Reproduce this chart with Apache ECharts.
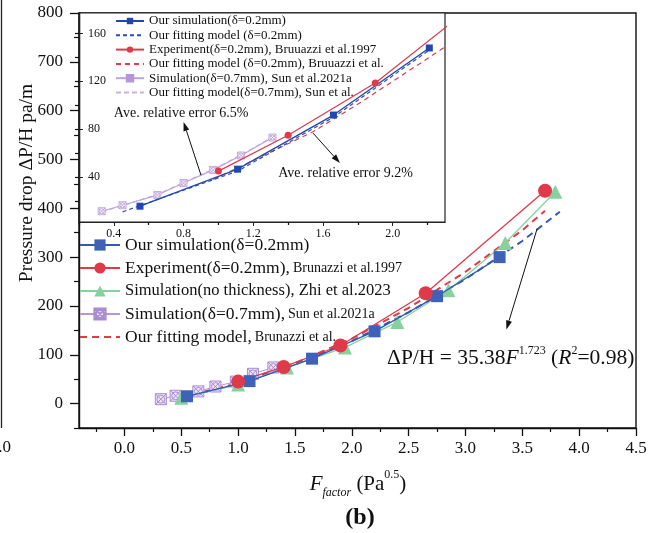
<!DOCTYPE html>
<html><head><meta charset="utf-8">
<script src="https://cdn.jsdelivr.net/npm/echarts@6/dist/echarts.min.js"></script>
<style>html,body{margin:0;padding:0;background:#fff}#c{width:658px;height:533px}</style>
</head><body><div id="c"></div>
<script>
// ---------- main chart data ----------
const simX = [0.55, 1.1, 1.65, 2.2, 2.75, 3.3];
const simY = [15, 46, 92, 148, 220, 300];
const expX = [1.0, 1.4, 1.9, 2.65, 3.7];
const expY = [45, 75, 119, 226, 436];
const zhiX = [0.5, 1.0, 1.43, 1.94, 2.4, 2.85, 3.35, 3.79];
const zhiY = [12, 39, 74, 115, 167, 232, 329, 434];
const sunX = [0.32, 0.45, 0.65, 0.8, 0.98, 1.13, 1.31];
const sunY = [9, 16, 25, 35, 45, 61, 74];
const fitBruX = [0.5, 1.0, 1.5, 2.0, 2.5, 3.0, 3.5, 3.7];
const fitBruY = [13, 42, 83, 133, 196, 270, 355, 395];
const fitSimX = [0.5, 1.0, 1.5, 2.0, 2.5, 3.0, 3.5, 3.83];
const fitSimY = [12, 40, 80, 128, 187, 255, 333, 393];
// ---------- inset data ----------
const inSimX = [0.55, 1.11, 1.66, 2.21];
const inSimY = [15.7, 46.6, 91.8, 147.8];
const inFitSimX = [0.45, 1.11, 1.66, 2.21];
const inFitSimY = [11, 45, 90, 146];
const inExpX = [1.0, 1.4, 1.9, 2.65];
const inExpY = [45, 75, 118.6, 205];
const inFitBruX = [0.97, 1.54, 1.81, 2.3];
const inFitBruY = [38, 77.6, 101.8, 148.6];
const inSunX = [0.33, 0.45, 0.65, 0.8, 0.97, 1.13, 1.31];
const inSunY = [11.5, 16.5, 25, 35, 46, 58, 73];
const inFitSunX = [0.33, 0.45, 0.65, 0.8, 0.97, 1.13, 1.31];
const inFitSunY = [11, 16, 25.5, 35.5, 46.5, 58.5, 73.5];
// ---------- tick labels ----------
const mainXTicks = [0, 0.5, 1, 1.5, 2, 2.5, 3, 3.5, 4, 4.5];
const mainXMinor = [-0.25, 0.25, 0.75, 1.25, 1.75, 2.25, 2.75, 3.25, 3.75, 4.25];
const mainYTicks = [0, 100, 200, 300, 400, 500, 600, 700, 800];
const mainYMinor = [-50, 50, 150, 250, 350, 450, 550, 650, 750];
const inXTicks = [0.4, 0.8, 1.2, 1.6, 2.0];
const inXMinor = [0.2, 0.6, 1.0, 1.4, 1.8, 2.2];
const inYTicks = [40, 80, 120, 160];
const inYMinor = [20, 40, 60, 80, 100, 120, 140, 160];

const zip = (xs, ys) => xs.map((x, i) => [x, ys[i]]);
const FONT = '"Liberation Serif", "DejaVu Serif", serif';
const BLUE = '#3558b0', RED = '#e0394a', GREEN = '#86d19e', LAV = '#b596d8';
const XSYM = 'path://M0,0L10,0L10,10L0,10ZM0,0L10,10M10,0L0,10M8.6,5A3.6,3.6,0,1,1,1.4,5A3.6,3.6,0,1,1,8.6,5Z';
const NOSYM = { color: 'rgba(0,0,0,0)', borderColor: 'rgba(0,0,0,0)', borderWidth: 0 };

const mainNames = {
  'Our simulation(δ=0.2mm)': '{a|Our simulation(δ=0.2mm)}',
  'Experiment(δ=0.2mm), Brunazzi et al.1997': '{a|Experiment(δ=0.2mm),} {b|Brunazzi et al.1997}',
  'Simulation(no thickness), Zhi et al.2023': '{c|Simulation(no thickness), Zhi et al.2023}',
  'Simulation(δ=0.7mm), Sun et al.2021a': '{a|Simulation(δ=0.7mm),} {b|Sun et al.2021a}',
  'Our fitting model, Brunazzi et al.': '{a|Our fitting model,} {b|Brunazzi et al.}'
};
const mainDashed = ['Our fitting model, Brunazzi et al.'];
const insetNames = {
  in1: 'Our simulation(δ=0.2mm)',
  in2: 'Our fitting model (δ=0.2mm)',
  in3: 'Experiment(δ=0.2mm), Bruuazzi et al.1997',
  in4: 'Our fitting model (δ=0.2mm), Bruuazzi et al.',
  in5: 'Simulation(δ=0.7mm), Sun et al.2021a',
  in6: 'Our fitting model(δ=0.7mm), Sun et al.'
};
const insetDashed = ['in2', 'in4', 'in6'];

function valAxis(grid, pos, min, max, labels, opts) {
  return Object.assign({
    type: 'value', gridIndex: grid, position: pos, min: min, max: max,
    splitLine: { show: false },
    axisLine: { show: true, onZero: false, lineStyle: { color: '#111', width: 1.4 } },
    axisTick: { show: true, customValues: labels, length: 8, lineStyle: { color: '#111', width: 1.3 } },
    axisLabel: { show: true, customValues: labels, color: '#111', fontFamily: FONT, fontSize: 17 }
  }, opts);
}
function minorAxis(grid, pos, min, max, vals, len, inside) {
  return {
    type: 'value', gridIndex: grid, position: pos, min: min, max: max,
    splitLine: { show: false },
    axisLine: { show: false, onZero: false },
    axisTick: { show: true, inside: !!inside, customValues: vals, length: len, lineStyle: { color: '#111', width: 1.2 } },
    axisLabel: { show: false }
  };
}

const chart = echarts.init(document.getElementById('c'), null, { renderer: 'canvas' });

const option = {
  animation: false,
  backgroundColor: '#fff',
  grid: [
    { left: 79, top: 13, right: 22, bottom: 105, show: true, borderColor: '#111', borderWidth: 1.4, backgroundColor: '#fff' },
    { left: 79, top: 13, width: 366, height: 209, show: true, borderColor: '#222', borderWidth: 1.2, backgroundColor: '#fff' }
  ],
  xAxis: [
    valAxis(0, 'bottom', -0.4, 4.5, mainXTicks, { axisLabel: { customValues: mainXTicks, color: '#111', fontFamily: FONT, fontSize: 17, margin: 12, formatter: v => v.toFixed(1) } }),
    minorAxis(0, 'bottom', -0.4, 4.5, mainXMinor, 4),
    valAxis(1, 'bottom', 0.2, 2.3, inXTicks, {
      axisLine: { show: true, onZero: false, lineStyle: { color: '#222', width: 1.2 } },
      axisTick: { show: true, customValues: inXTicks, length: 4, lineStyle: { color: '#222', width: 1 } },
      axisLabel: { customValues: inXTicks, color: '#111', fontFamily: FONT, fontSize: 12, margin: 6, formatter: v => v.toFixed(1) } }),
    minorAxis(1, 'bottom', 0.2, 2.3, inXMinor, 3)
  ],
  yAxis: [
    valAxis(0, 'left', -50, 800, mainYTicks, { axisTick: { show: true, customValues: mainYTicks, length: 9, lineStyle: { color: '#111', width: 1.3 } },
      axisLabel: { customValues: mainYTicks, color: '#111', fontFamily: FONT, fontSize: 17, margin: 16 } }),
    minorAxis(0, 'left', -50, 800, mainYMinor, 5),
    valAxis(1, 'left', 2.5, 177, inYTicks, {
      axisLine: { show: true, onZero: false, lineStyle: { color: '#222', width: 1.2 } },
      axisTick: { show: true, inside: true, customValues: inYTicks, length: 4, lineStyle: { color: '#222', width: 1 } },
      axisLabel: { inside: true, customValues: inYTicks, color: '#111', fontFamily: FONT, fontSize: 12, margin: 9 } }),
    minorAxis(1, 'left', 2.5, 177, inYMinor, 4)
  ],
  legend: [
    {
      orient: 'vertical', left: 79, top: 236, padding: 0, itemGap: 5,
      itemWidth: 40, itemHeight: 14,
      data: Object.keys(mainNames).map(n => mainDashed.includes(n) ? { name: n, itemStyle: NOSYM } : n),
      formatter: n => mainNames[n],
      textStyle: { fontFamily: FONT, color: '#111', lineHeight: 18,
        rich: {
          a: { fontFamily: FONT, fontSize: 17.5, color: '#111', lineHeight: 18 },
          b: { fontFamily: FONT, fontSize: 14, color: '#111', lineHeight: 18 },
          c: { fontFamily: FONT, fontSize: 16.5, color: '#111', lineHeight: 18 }
        } }
    },
    {
      orient: 'vertical', left: 115, top: 14.5, padding: 0, itemGap: 1.3,
      itemWidth: 28, itemHeight: 8,
      data: Object.keys(insetNames).map(n => insetDashed.includes(n) ? { name: n, itemStyle: NOSYM } : n),
      formatter: n => insetNames[n],
      textStyle: { fontFamily: FONT, fontSize: 13, color: '#111', lineHeight: 13 }
    }
  ],
  series: [
    // ----- main -----
    { name: 'Our fitting model, Brunazzi et al.', type: 'line', xAxisIndex: 0, yAxisIndex: 0, data: zip(fitBruX, fitBruY),
      symbol: 'none', lineStyle: { color: RED, width: 2, type: [7, 5] }, itemStyle: { color: RED }, z: 3 },
    { name: 'fitSimMain', type: 'line', xAxisIndex: 0, yAxisIndex: 0, data: zip(fitSimX, fitSimY),
      symbol: 'none', lineStyle: { color: BLUE, width: 2, type: [7, 5] }, itemStyle: { color: BLUE }, z: 3 },
    { name: 'Simulation(δ=0.7mm), Sun et al.2021a', type: 'line', xAxisIndex: 0, yAxisIndex: 0, data: zip(sunX, sunY),
      symbol: XSYM, symbolSize: 11, lineStyle: { color: LAV, width: 1 },
      itemStyle: { color: '#ece3f6', borderColor: '#a98bd2', borderWidth: 1 }, z: 4 },
    { name: 'Simulation(no thickness), Zhi et al.2023', type: 'line', xAxisIndex: 0, yAxisIndex: 0, data: zip(zhiX, zhiY),
      symbol: 'triangle', symbolSize: 14, lineStyle: { color: GREEN, width: 1.3 }, itemStyle: { color: GREEN }, z: 4 },
    { name: 'Our simulation(δ=0.2mm)', type: 'line', xAxisIndex: 0, yAxisIndex: 0, data: zip(simX, simY),
      symbol: 'rect', symbolSize: 12, lineStyle: { color: BLUE, width: 1.3 }, itemStyle: { color: '#3f62b8' }, z: 5 },
    { name: 'Experiment(δ=0.2mm), Brunazzi et al.1997', type: 'line', xAxisIndex: 0, yAxisIndex: 0, data: zip(expX, expY),
      symbol: 'circle', symbolSize: 14, lineStyle: { color: RED, width: 1.3 }, itemStyle: { color: RED }, z: 5 },
    // ----- inset -----
    { name: 'in6', type: 'line', xAxisIndex: 2, yAxisIndex: 2, data: zip(inFitSunX, inFitSunY),
      symbol: 'none', lineStyle: { color: '#c9b2e2', width: 1.2, type: [5, 3] }, itemStyle: { color: '#c9b2e2' }, z: 3 },
    { name: 'in5', type: 'line', xAxisIndex: 2, yAxisIndex: 2, data: zip(inSunX, inSunY),
      symbol: XSYM, symbolSize: 7, lineStyle: { color: '#bea3dc', width: 1.2 },
      itemStyle: { color: '#ffffff', borderColor: '#b596d8', borderWidth: 0.8 }, z: 4 },
    { name: 'in4', type: 'line', xAxisIndex: 2, yAxisIndex: 2, data: zip(inFitBruX, inFitBruY),
      symbol: 'none', lineStyle: { color: RED, width: 1.2, type: [5, 4] }, itemStyle: { color: RED }, z: 3 },
    { name: 'in2', type: 'line', xAxisIndex: 2, yAxisIndex: 2, data: zip(inFitSimX, inFitSimY),
      symbol: 'none', lineStyle: { color: '#2a4fb0', width: 1.2, type: [4, 3] }, itemStyle: { color: '#2a4fb0' }, z: 3 },
    { name: 'in3', type: 'line', xAxisIndex: 2, yAxisIndex: 2, data: zip(inExpX, inExpY),
      symbol: 'circle', symbolSize: 7, lineStyle: { color: RED, width: 1.2 }, itemStyle: { color: RED }, z: 5 },
    { name: 'in1', type: 'line', xAxisIndex: 2, yAxisIndex: 2, data: zip(inSimX, inSimY),
      symbol: 'rect', symbolSize: 7, lineStyle: { color: '#1f47ad', width: 1.4 }, itemStyle: { color: '#1f47ad' }, z: 5 }
  ]
};
chart.setOption(option);

// ---------- annotations (placed in data coordinates) ----------
const MAIN = { xAxisIndex: 0, yAxisIndex: 0 };
const INSET = { xAxisIndex: 2, yAxisIndex: 2 };
const px = (f, p) => chart.convertToPixel(f, p);

function arrow(p0, p1) {
  const dx = p1[0] - p0[0], dy = p1[1] - p0[1];
  const L = Math.sqrt(dx * dx + dy * dy), ux = dx / L, uy = dy / L;
  const hl = 9, hw = 3;
  const bx = p1[0] - ux * hl, by = p1[1] - uy * hl;
  return [
    { type: 'line', shape: { x1: p0[0], y1: p0[1], x2: bx, y2: by }, style: { stroke: '#111', lineWidth: 1 }, z: 50 },
    { type: 'polygon', shape: { points: [p1, [bx - uy * hw, by + ux * hw], [bx + uy * hw, by - ux * hw]] }, style: { fill: '#111' }, z: 50 }
  ];
}

const fPos = px(MAIN, [2.31, 95]);
const t65 = px(INSET, [0.4, 93.5]);
const t92 = px(INSET, [1.343, 43.3]);

const graphics = [].concat(
  arrow(px(MAIN, [3.63, 358]), px(MAIN, [3.36, 152])),
  arrow(px(INSET, [0.9, 41.6]), px(INSET, [0.8, 86])),
  arrow(px(INSET, [1.543, 76.7]), px(INSET, [1.697, 51.7])),
  [
    { type: 'text', x: fPos[0], y: fPos[1], z: 50,
      style: { text: '{n|ΔP/H = 35.38}{i|F}{s|1.723}{n| (}{i|R}{s|2}{n|=0.98)}', verticalAlign: 'middle', align: 'left',
        rich: {
          n: { fontFamily: FONT, fontSize: 21.5, fill: '#111', lineHeight: 24, verticalAlign: 'bottom' },
          i: { fontFamily: FONT, fontSize: 21.5, fontStyle: 'italic', fill: '#111', lineHeight: 24, verticalAlign: 'bottom' },
          s: { fontFamily: FONT, fontSize: 12, fill: '#111', lineHeight: 14, verticalAlign: 'top' }
        } } },
    { type: 'text', x: t65[0], y: t65[1], z: 50,
      style: { text: 'Ave. relative error 6.5%', font: '14px ' + FONT, fill: '#111', verticalAlign: 'middle', align: 'left' } },
    { type: 'text', x: t92[0], y: t92[1], z: 50,
      style: { text: 'Ave. relative error 9.2%', font: '14px ' + FONT, fill: '#111', verticalAlign: 'middle', align: 'left' } },
    { type: 'text', x: 27, y: 183, rotation: Math.PI / 2, z: 50,
      style: { text: 'Pressure drop ΔP/H pa/m', font: '19.5px ' + FONT, fill: '#111', align: 'center', verticalAlign: 'middle' } },
    { type: 'text', x: 358, y: 484, z: 50,
      style: { text: '{i|F}{sub|factor}{n| (Pa}{sup|0.5}{n|)}', align: 'center', verticalAlign: 'middle',
        rich: {
          i: { fontFamily: FONT, fontSize: 21, fontStyle: 'italic', fill: '#111', lineHeight: 30, verticalAlign: 'middle' },
          n: { fontFamily: FONT, fontSize: 21, fill: '#111', lineHeight: 30, verticalAlign: 'middle' },
          sub: { fontFamily: FONT, fontSize: 12, fontStyle: 'italic', fill: '#111', lineHeight: 14, verticalAlign: 'bottom' },
          sup: { fontFamily: FONT, fontSize: 12, fill: '#111', lineHeight: 14, verticalAlign: 'top' }
        } } },
    { type: 'text', x: 360, y: 518, z: 50,
      style: { text: '(b)', font: 'bold 24px ' + FONT, fill: '#111', align: 'center', verticalAlign: 'middle' } },
    // fragment of the neighbouring panel at the left edge
    { type: 'line', shape: { x1: 1.5, y1: 0, x2: 1.5, y2: 428 }, style: { stroke: '#222', lineWidth: 1.3 }, z: 50 },
    { type: 'text', x: 11, y: 448, z: 50,
      style: { text: '1.0', font: '17px ' + FONT, fill: '#111', align: 'right', verticalAlign: 'middle' } }
  ]
);
chart.setOption({ graphic: graphics });
</script>
</body></html>
